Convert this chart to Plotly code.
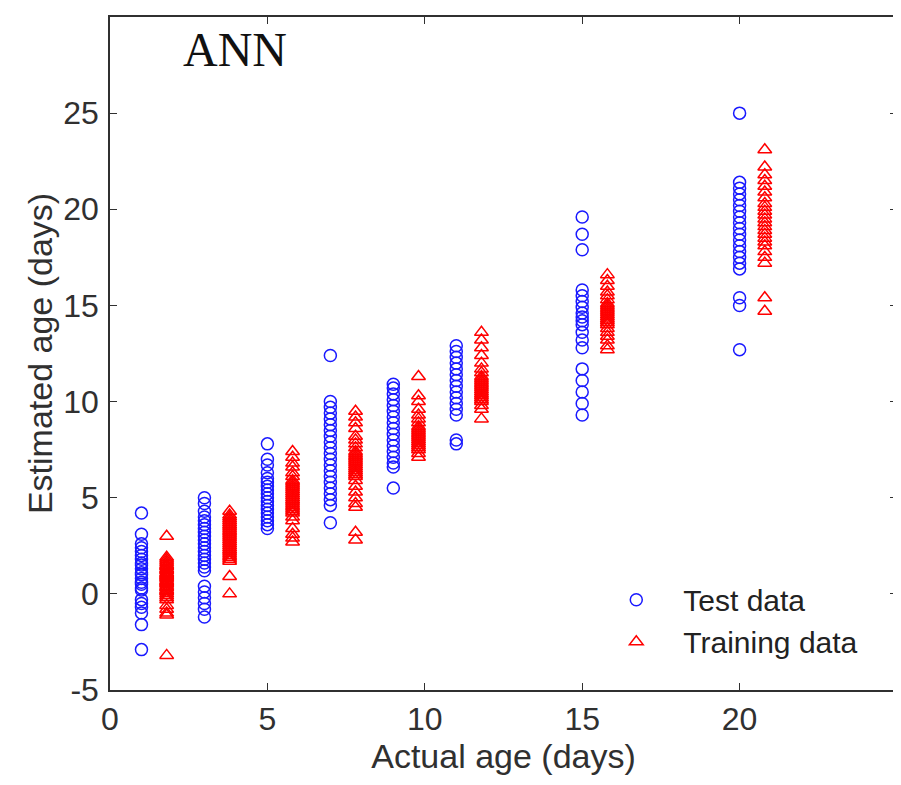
import plotly.graph_objects as go

# actual ages (days); training data drawn slightly to the right of each test column
test_ages = [1, 3, 5, 7, 9, 11, 15, 20]
train_ages = [1.8, 3.8, 5.8, 7.8, 9.8, 11.8, 15.8, 20.8]

# estimated ages, one list per actual age
test_est_1 = [4.2, 3.1, 2.6, 2.4, 2.2, 2.0, 1.8, 1.6, 1.5, 1.3, 1.1, 1.0, 0.8, 0.6, 0.5, 0.3, 0.2,
              -0.3, -0.5, -0.7, -1.0, -1.6, -2.9]
test_est_3 = [5.0, 4.7, 4.3, 4.0, 3.8, 3.6, 3.4, 3.2, 3.0, 2.8, 2.6, 2.4, 2.2, 2.0, 1.8, 1.6, 1.4, 1.2,
              0.4, 0.1, -0.2, -0.5, -0.8, -1.2]
test_est_5 = [7.8, 7.0, 6.7, 6.3, 6.0, 5.8, 5.6, 5.4, 5.2, 5.0, 4.8, 4.6, 4.4, 4.2, 4.0, 3.8, 3.6, 3.4]
test_est_7 = [12.4, 10.0, 9.7, 9.4, 9.1, 8.8, 8.5, 8.2, 7.9, 7.6, 7.3, 7.0, 6.7, 6.4, 6.1, 5.8, 5.5,
              5.2, 4.9, 4.6, 3.7]
test_est_9 = [10.9, 10.7, 10.4, 10.1, 9.8, 9.5, 9.2, 8.9, 8.6, 8.3, 8.0, 7.7, 7.4, 7.1, 6.8, 6.6, 5.5]
test_est_11 = [12.9, 12.6, 12.3, 12.0, 11.7, 11.4, 11.1, 10.8, 10.5, 10.2, 9.9, 9.6, 9.3, 8.0, 7.8]
test_est_15 = [19.6, 18.7, 17.9, 15.8, 15.5, 15.2, 14.9, 14.6, 14.4, 14.2, 14.0, 13.6, 13.2, 12.8,
               11.7, 11.1, 10.5, 9.9, 9.3]
test_est_20 = [25.0, 21.4, 21.1, 20.8, 20.5, 20.2, 19.9, 19.6, 19.3, 19.0, 18.7, 18.4, 18.1, 17.8,
               17.5, 17.2, 16.9, 15.4, 15.0, 12.7]

train_est_1 = [3.0, 1.9, 1.8, 1.7, 1.6, 1.5, 1.45, 1.4, 1.3, 1.25, 1.2, 1.1, 1.05, 1.0, 0.95, 0.9,
               0.85, 0.8, 0.7, 0.65, 0.6, 0.55, 0.5, 0.4, 0.35, 0.3, 0.2, 0.15, 0.1, 0.0, -0.1,
               -0.2, -0.3, -0.6, -0.8, -1.0, -1.1, -3.2]
train_est_3 = [4.3, 4.1, 4.0, 3.9, 3.8, 3.7, 3.6, 3.5, 3.4, 3.3, 3.2, 3.1, 3.0, 2.9, 2.8, 2.7, 2.6,
               2.5, 2.4, 2.3, 2.2, 2.1, 2.0, 1.9, 1.8, 1.7, 0.9, 0.0]
train_est_5 = [7.4, 7.1, 6.8, 6.6, 6.3, 6.1, 5.9, 5.8, 5.7, 5.6, 5.5, 5.4, 5.3, 5.2, 5.1, 5.0, 4.9,
               4.8, 4.7, 4.6, 4.5, 4.4, 4.3, 4.2, 4.0, 3.8, 3.4, 3.1, 2.9, 2.7]
train_est_7 = [9.5, 9.2, 8.9, 8.6, 8.2, 8.0, 7.8, 7.6, 7.4, 7.3, 7.2, 7.1, 7.0, 6.9, 6.8, 6.7, 6.6,
               6.5, 6.4, 6.3, 6.2, 6.1, 5.9, 5.6, 5.3, 5.0, 4.7, 4.5, 3.2, 2.8]
train_est_9 = [11.3, 10.3, 10.0, 9.6, 9.3, 9.1, 8.9, 8.7, 8.6, 8.5, 8.4, 8.3, 8.2, 8.1, 8.0, 7.9,
               7.8, 7.7, 7.6, 7.5, 7.3, 7.1]
train_est_11 = [13.6, 13.2, 12.8, 12.4, 12.0, 11.7, 11.5, 11.3, 11.2, 11.1, 11.0, 10.9, 10.8, 10.7,
                10.6, 10.5, 10.4, 10.3, 10.2, 10.1, 10.0, 9.8, 9.6, 9.1]
train_est_15 = [16.6, 16.3, 16.0, 15.7, 15.5, 15.3, 15.1, 15.0, 14.9, 14.8, 14.7, 14.6, 14.5, 14.4,
                14.3, 14.2, 14.1, 14.0, 13.8, 13.6, 13.4, 13.2, 12.9, 12.7]
train_est_20 = [23.1, 22.2, 21.8, 21.5, 21.2, 20.9, 20.6, 20.3, 20.1, 19.9, 19.7, 19.5, 19.3, 19.1,
                18.9, 18.7, 18.5, 18.3, 18.1, 17.8, 17.5, 17.2, 15.4, 14.7]

test_groups = [test_est_1, test_est_3, test_est_5, test_est_7,
               test_est_9, test_est_11, test_est_15, test_est_20]
train_groups = [train_est_1, train_est_3, train_est_5, train_est_7,
                train_est_9, train_est_11, train_est_15, train_est_20]

x_ticks = [0, 5, 10, 15, 20]
y_ticks = [-5, 0, 5, 10, 15, 20, 25]

test_x, test_y = [], []
for age, vals in zip(test_ages, test_groups):
    test_x += [age] * len(vals)
    test_y += vals

train_x, train_y = [], []
for age, vals in zip(train_ages, train_groups):
    train_x += [age] * len(vals)
    train_y += vals

AXIS = "#303030"
SANS = "Liberation Sans, Arial, sans-serif"

fig = go.Figure()
fig.add_trace(go.Scatter(
    x=test_x, y=test_y, mode="markers", name="Test data",
    marker=dict(symbol="circle-open", size=12, color="rgb(25,25,255)", line=dict(width=1.5)),
))
fig.add_trace(go.Scatter(
    x=train_x, y=train_y, mode="markers", name="Training data",
    marker=dict(symbol="triangle-up-open", size=12, color="rgb(255,0,0)", line=dict(width=1.5)),
))

fig.add_annotation(x=2.25, y=28.3, xref="x", yref="y", text="ANN", showarrow=False,
                   xanchor="left", yanchor="middle",
                   font=dict(family="Liberation Serif, Times New Roman, serif", size=48, color="#111111"))

axis_common = dict(
    showgrid=False, zeroline=False, showline=True, linecolor=AXIS, linewidth=1.5,
    mirror="ticks", ticks="inside", ticklen=7, tickwidth=1.3, tickcolor=AXIS,
    tickfont=dict(family=SANS, size=32, color=AXIS), automargin=False,
)

fig.update_xaxes(range=[0, 25], tickvals=x_ticks, ticktext=[str(v) for v in x_ticks],
                 title=dict(text="Actual age (days)", font=dict(family=SANS, size=34, color=AXIS),
                            standoff=2),
                 **axis_common)
fig.update_yaxes(range=[-5, 30], tickvals=y_ticks, ticktext=[str(v) for v in y_ticks],
                 ticklabelstandoff=3,
                 title=dict(text="Estimated age (days)", font=dict(family=SANS, size=34, color=AXIS),
                            standoff=0),
                 **axis_common)

# page body adds an 8px offset, so the figure is 8px smaller than the window
fig.update_layout(
    width=893, height=777,
    margin=dict(l=102, r=4, t=9, b=95),
    paper_bgcolor="white", plot_bgcolor="white",
    legend=dict(x=0.609, y=0.033, xanchor="left", yanchor="bottom",
                bgcolor="rgba(0,0,0,0)", font=dict(family=SANS, size=30, color="#222222"),
                itemwidth=84, tracegroupgap=0),
)

fig.write_html("out.html")
